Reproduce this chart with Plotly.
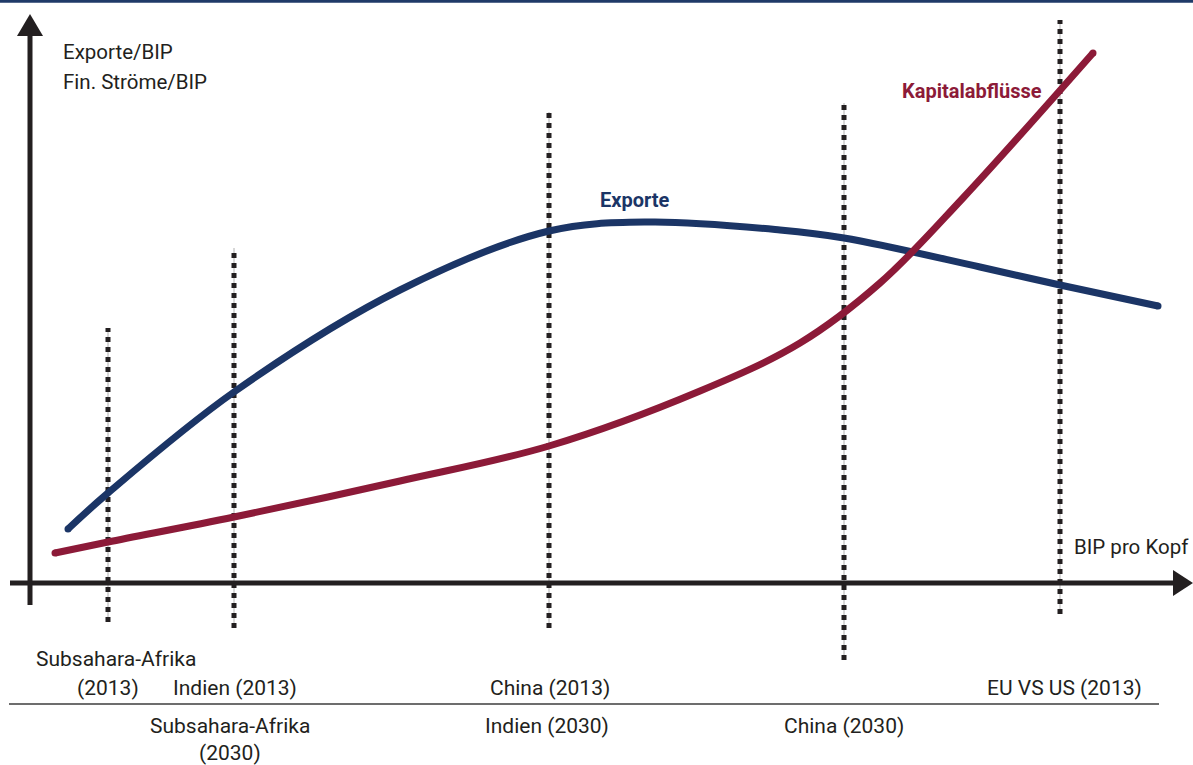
import plotly.graph_objects as go

# Conceptual units: x = GDP per capita (origin at axis crossing), y = ratio to GDP
exp_x = [38, 78, 204, 370, 519, 620, 750, 814, 950, 1030, 1128]
exp_y = [54, 90, 191, 293, 352, 361, 353, 345, 316, 298, 277]

cap_x = [25, 78, 204, 370, 519, 670, 770, 850, 933, 1063]
cap_y = [30, 41, 66, 102, 137, 192, 240, 300, 385, 530]

marker_x = [78, 204, 519, 814, 1030]
marker_top = [255, 335, 471, 480, 563]
marker_bottom = [-39, -45, -45, -77, -31]

labels_2013 = ["(2013)", "Indien (2013)", "China (2013)", "EU VS US (2013)"]
labels_2013_x = [78, 204.5, 519.5, 1034]
labels_2030 = ["Subsahara-Afrika", "Indien (2030)", "China (2030)"]
labels_2030_x = [200, 516.5, 814]

BLUE = "#1b3566"
RED = "#8c1a38"
INK = "#231f20"
FONT = "Roboto, Arial, sans-serif"
FS = 21

fig = go.Figure()

# vertical dotted markers
for mx, top, bot in zip(marker_x, marker_top, marker_bottom):
    fig.add_trace(go.Scatter(x=[mx, mx], y=[bot, top], mode="lines",
                             line=dict(color="#b0b0b0", width=1), hoverinfo="skip"))
    fig.add_trace(go.Scatter(x=[mx, mx], y=[bot, top], mode="lines",
                             line=dict(color=INK, width=5, dash="dot"), hoverinfo="skip"))

for xs, ys, col, nm in [(exp_x, exp_y, BLUE, "Exporte"), (cap_x, cap_y, RED, "Kapitalabflüsse")]:
    fig.add_trace(go.Scatter(x=xs, y=ys, mode="lines",
                             line=dict(color=col, width=7, shape="spline", smoothing=1), name=nm))
    # rounded line ends
    fig.add_trace(go.Scatter(x=[xs[0], xs[-1]], y=[ys[0], ys[-1]], mode="markers",
                             marker=dict(color=col, size=7, line=dict(width=0)), hoverinfo="skip"))

shapes = [
    # axes
    dict(type="line", xref="x", yref="y", x0=-20, x1=1145, y0=0, y1=0, line=dict(color=INK, width=5)),
    dict(type="line", xref="x", yref="y", x0=0, x1=0, y0=-22, y1=549, line=dict(color=INK, width=5)),
    dict(type="path", xref="x", yref="y", path="M 1143 13 L 1163 0 L 1143 -13 Z", fillcolor=INK, line=dict(width=0)),
    dict(type="path", xref="x", yref="y", path="M -13 547 L 0 569 L 13 547 Z", fillcolor=INK, line=dict(width=0)),
    # separator line under 2013 labels
    dict(type="line", xref="x", yref="y", x0=-21, x1=1129, y0=-121, y1=-121, line=dict(color="#6d6d6d", width=2)),
    # top rule
    dict(type="line", xref="paper", yref="paper", x0=0, x1=1, y0=0.9985, y1=0.9985, line=dict(color="#1f3a68", width=3)),
]

annotations = [
    dict(x=31, y=531, text="Exporte/BIP", showarrow=False, xanchor="left", font=dict(size=20.5, color=INK, family=FONT)),
    dict(x=31, y=501, text="Fin. Ströme/BIP", showarrow=False, xanchor="left", font=dict(size=20.5, color=INK, family=FONT)),
    dict(x=604.5, y=383, text="<b>Exporte</b>", showarrow=False, font=dict(size=20, color=BLUE, family=FONT)),
    dict(x=942, y=492, text="<b>Kapitalabflüsse</b>", showarrow=False, font=dict(size=20, color=RED, family=FONT)),
    dict(x=1042, y=36, text="BIP pro Kopf", showarrow=False, xanchor="left", font=dict(size=20.5, color=INK, family=FONT)),
    dict(x=85.5, y=-76, text="Subsahara-Afrika", showarrow=False, font=dict(size=FS, color=INK, family=FONT)),
    dict(x=200, y=-170, text="(2030)", showarrow=False, font=dict(size=FS, color=INK, family=FONT)),
]
for t, x in zip(labels_2013, labels_2013_x):
    annotations.append(dict(x=x, y=-105, text=t, showarrow=False, font=dict(size=FS, color=INK, family=FONT)))
for t, x in zip(labels_2030, labels_2030_x):
    annotations.append(dict(x=x, y=-143, text=t, showarrow=False, font=dict(size=FS, color=INK, family=FONT)))

fig.update_layout(
    width=1193, height=765,
    margin=dict(l=0, r=0, t=0, b=0),
    plot_bgcolor="white", paper_bgcolor="white",
    showlegend=False,
    shapes=shapes, annotations=annotations,
    xaxis=dict(range=[-30, 1163], visible=False, fixedrange=True),
    yaxis=dict(range=[-182, 583], visible=False, fixedrange=True),
)

fig.write_html("out.html", config={"displayModeBar": False},
               post_script="document.body.style.margin='0px';")
